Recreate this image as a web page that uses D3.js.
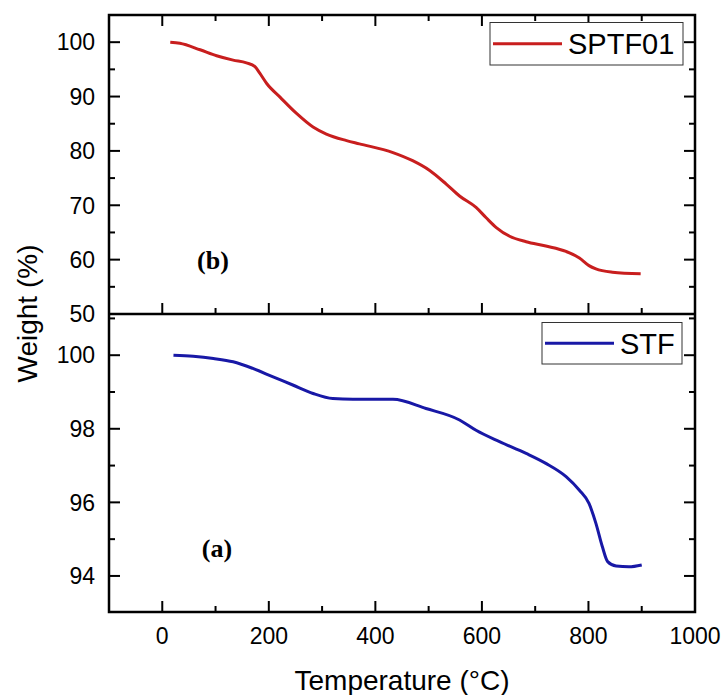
<!DOCTYPE html>
<html>
<head>
<meta charset="utf-8">
<script src="https://cdn.jsdelivr.net/npm/d3@7"></script>
<style>
  body { margin: 0; background: #fff; }
  svg { display: block; font-family: "Liberation Sans", Arial, sans-serif; }
</style>
</head>
<body>
<div id="chart"></div>
<script>
// temperature (°C) and weight (%)
const sptfTemp = [15, 33, 71, 102, 133, 158, 174, 183, 196, 221, 252, 283, 308, 346, 370, 433, 470, 502, 533, 558, 589, 608, 627, 652, 683, 720, 758, 783, 801, 814, 845, 898];
const sptfWeight = [100, 99.8, 98.6, 97.5, 96.7, 96.2, 95.5, 94.3, 92.4, 89.9, 86.9, 84.4, 83.1, 81.9, 81.3, 79.7, 78.2, 76.4, 73.9, 71.7, 69.6, 67.7, 65.9, 64.3, 63.3, 62.5, 61.5, 60.3, 58.9, 58.3, 57.7, 57.4];

const stfTemp = [21, 58, 96, 133, 170, 208, 245, 283, 320, 358, 395, 433, 495, 558, 589, 633, 683, 720, 758, 783, 801, 814, 826, 836, 852, 876, 900];
const stfWeight = [100.0, 99.97, 99.91, 99.82, 99.64, 99.41, 99.19, 98.96, 98.82, 98.8, 98.8, 98.8, 98.55, 98.24, 97.96, 97.65, 97.33, 97.06, 96.7, 96.33, 95.97, 95.43, 94.8, 94.39, 94.27, 94.25, 94.3];

const xMajor = [0, 200, 400, 600, 800, 1000];
const xMinor = [100, 300, 500, 700, 900];
const topMajor = [50, 60, 70, 80, 90, 100];
const topMinor = [55, 65, 75, 85, 95];
const botMajor = [94, 96, 98, 100];
const botMinor = [95, 97, 99, 101];

const W = 725, H = 695;
const fLeft = 109, fRight = 695, fTop = 15, fMid = 314, fBottom = 612;
const MAJ = 11, MIN = 6;

const svg = d3.select("#chart").append("svg")
    .attr("width", W)
    .attr("height", H);

const x = d3.scaleLinear().domain([-100, 1000]).range([fLeft, fRight]);
const yTop = d3.scaleLinear().domain([50, 105]).range([fMid, fTop]);
const yBot = d3.scaleLinear().domain([93.02, 101.12]).range([fBottom, fMid]);

// ticks
const ticks = svg.append("g").attr("stroke", "#000").attr("stroke-width", 2);

function xTicks(y0, dir) {
    xMajor.forEach(v => {
        if (x(v) >= fRight - 1) return;
        ticks.append("line").attr("x1", x(v)).attr("x2", x(v)).attr("y1", y0).attr("y2", y0 + dir * MAJ);
    });
    xMinor.forEach(v => {
        ticks.append("line").attr("x1", x(v)).attr("x2", x(v)).attr("y1", y0).attr("y2", y0 + dir * MIN);
    });
}
xTicks(fTop, 1);
xTicks(fMid, -1);
xTicks(fBottom, -1);

function yTicks(scale, major, minor) {
    [fLeft, fRight].forEach((x0, i) => {
        const dir = i === 0 ? 1 : -1;
        major.forEach(v => {
            ticks.append("line").attr("x1", x0).attr("x2", x0 + dir * MAJ).attr("y1", scale(v)).attr("y2", scale(v));
        });
        minor.forEach(v => {
            ticks.append("line").attr("x1", x0).attr("x2", x0 + dir * MIN).attr("y1", scale(v)).attr("y2", scale(v));
        });
    });
}
yTicks(yTop, topMajor, topMinor);
yTicks(yBot, botMajor, botMinor);

// tick labels
const labels = svg.append("g").attr("font-size", 23).attr("fill", "#000");
topMajor.forEach(v => {
    labels.append("text").attr("x", fLeft - 14).attr("y", yTop(v)).attr("dy", "0.36em")
        .attr("text-anchor", "end").text(v);
});
botMajor.forEach(v => {
    labels.append("text").attr("x", fLeft - 14).attr("y", yBot(v)).attr("dy", "0.36em")
        .attr("text-anchor", "end").text(v);
});
xMajor.forEach(v => {
    labels.append("text").attr("x", x(v)).attr("y", fBottom + 32)
        .attr("text-anchor", "middle").text(v);
});

// curves
const line = (scale) => d3.line()
    .x(d => x(d[0]))
    .y(d => scale(d[1]))
    .curve(d3.curveMonotoneX);

svg.append("path")
    .datum(d3.zip(sptfTemp, sptfWeight))
    .attr("d", line(yTop))
    .attr("fill", "none")
    .attr("stroke", "#c81e1e")
    .attr("stroke-width", 3);

svg.append("path")
    .datum(d3.zip(stfTemp, stfWeight))
    .attr("d", line(yBot))
    .attr("fill", "none")
    .attr("stroke", "#1818a6")
    .attr("stroke-width", 3);

// frame and divider
svg.append("rect")
    .attr("x", fLeft).attr("y", fTop)
    .attr("width", fRight - fLeft).attr("height", fBottom - fTop)
    .attr("fill", "none").attr("stroke", "#000").attr("stroke-width", 2.5);
svg.append("line")
    .attr("x1", fLeft).attr("x2", fRight).attr("y1", fMid).attr("y2", fMid)
    .attr("stroke", "#000").attr("stroke-width", 2.5);

// legends
function legend(x0, y0, w, h, color, label) {
    const g = svg.append("g").attr("transform", `translate(${x0},${y0})`);
    g.append("rect").attr("width", w).attr("height", h)
        .attr("fill", "#fff").attr("stroke", "#333").attr("stroke-width", 1);
    g.append("line").attr("x1", 3).attr("x2", 72).attr("y1", h / 2).attr("y2", h / 2)
        .attr("stroke", color).attr("stroke-width", 3);
    g.append("text").attr("x", 78).attr("y", h / 2).attr("dy", "0.36em")
        .attr("font-size", 29).text(label);
}
legend(490, 22.5, 193, 42.5, "#c81e1e", "SPTF01");
legend(542, 322.5, 140, 41.5, "#1818a6", "STF");

// panel tags
svg.append("text").attr("x", 213).attr("y", 269)
    .attr("text-anchor", "middle")
    .attr("font-family", "'Liberation Serif', 'Times New Roman', serif")
    .attr("font-weight", "bold").attr("font-size", 26).text("(b)");
svg.append("text").attr("x", 217).attr("y", 557)
    .attr("text-anchor", "middle")
    .attr("font-family", "'Liberation Serif', 'Times New Roman', serif")
    .attr("font-weight", "bold").attr("font-size", 26).text("(a)");

// axis titles
svg.append("text")
    .attr("x", (fLeft + fRight) / 2).attr("y", 690)
    .attr("text-anchor", "middle").attr("font-size", 28)
    .text("Temperature (°C)");
svg.append("text")
    .attr("transform", `translate(37,${(fTop + fBottom) / 2}) rotate(-90)`)
    .attr("text-anchor", "middle").attr("font-size", 28)
    .text("Weight (%)");
</script>
</body>
</html>
